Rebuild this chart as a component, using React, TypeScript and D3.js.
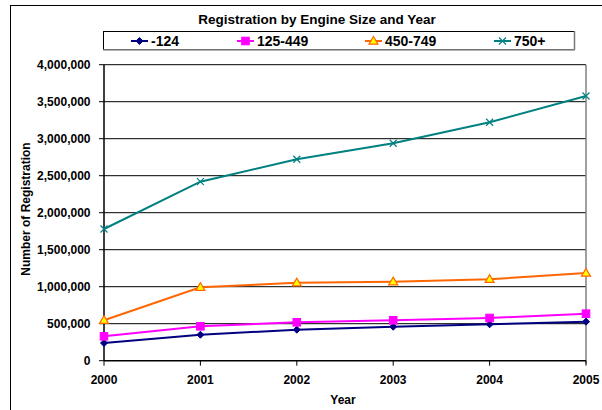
import React from "react";
import * as d3 from "d3";

const years = [2000, 2001, 2002, 2003, 2004, 2005];
const seriesNames = ["-124", "125-449", "450-749", "750+"];
const s124 = [239000, 351000, 419000, 459000, 492000, 527000];
const s125 = [330000, 465000, 519000, 546000, 577000, 635000];
const s450 = [546000, 992000, 1054000, 1068000, 1100000, 1185000];
const s750 = [1780000, 2419000, 2722000, 2938000, 3222000, 3577000];
const yTicks = [0, 500000, 1000000, 1500000, 2000000, 2500000, 3000000, 3500000, 4000000];

const colors = ["#000080", "#FF00FF", "#FF6600", "#008080"];
const allSeries = [s124, s125, s450, s750];

const W = 602, H = 410;
const left = 104, right = 586, top = 64.7, bottom = 360.7;
const font = "'Liberation Sans', Arial, sans-serif";

function Marker({ kind, x, y }: { kind: number; x: number; y: number }) {
  if (kind === 0) {
    const r = 3.5;
    return <path d={`M${x},${y - r}L${x + r},${y}L${x},${y + r}L${x - r},${y}Z`} fill="#000080" stroke="#000080" strokeWidth={1} />;
  }
  if (kind === 1) {
    return <rect x={x - 3.8} y={y - 3.8} width={7.6} height={7.6} fill="#FF00FF" stroke="#FF00FF" />;
  }
  if (kind === 2) {
    const r = 4.5;
    return <path d={`M${x},${y - r}L${x + r},${y + r * 0.7}L${x - r},${y + r * 0.7}Z`} fill="#FFFF00" stroke="#FF6600" strokeWidth={1.2} />;
  }
  const r = 3.5;
  return <path d={`M${x - r},${y - r}L${x + r},${y + r}M${x - r},${y + r}L${x + r},${y - r}`} stroke="#008080" strokeWidth={1.2} fill="none" />;
}

export default function App() {
  const x = d3.scaleLinear().domain([2000, 2005]).range([left, right]);
  const y = d3.scaleLinear().domain([0, 4000000]).range([bottom, top]);
  const line = d3.line<number>().x((_, i) => x(years[i])).y((d) => y(d));
  const fmt = d3.format(",");
  const legendX = [131, 237, 365, 494];

  return (
    <svg width={W} height={H} style={{ position: "absolute", left: 0, top: 0, background: "#fff" }}>
      <rect x={0} y={0} width={W} height={H} fill="#fff" />
      {/* outer frame */}
      <line x1={10} y1={5.5} x2={W} y2={5.5} stroke="#000" strokeWidth={1} />
      <line x1={10.5} y1={5} x2={10.5} y2={H} stroke="#000" strokeWidth={1} />

      {/* title */}
      <text x={317} y={24} textAnchor="middle" fontFamily={font} fontWeight="bold" fontSize={13.5} fill="#000">
        Registration by Engine Size and Year
      </text>

      {/* legend */}
      <rect x={103.5} y={31.5} width={471} height={18} fill="#fff" stroke="#000" strokeWidth={1} />
      <line x1={574.5} y1={31} x2={574.5} y2={50} stroke="#777" strokeWidth={1.5} />
      <line x1={103} y1={50} x2={575} y2={50} stroke="#999" strokeWidth={1.5} />
      {seriesNames.map((n, i) => (
        <g key={n}>
          <line x1={legendX[i]} y1={41} x2={legendX[i] + 17} y2={41} stroke={colors[i]} strokeWidth={2} />
          <Marker kind={i} x={legendX[i] + 8.5} y={41} />
          <text x={legendX[i] + 20} y={46} fontFamily={font} fontWeight="bold" fontSize={14} fill="#000">
            {n}
          </text>
        </g>
      ))}

      {/* gridlines */}
      {yTicks.map((t) => (
        <g key={t}>
          {t > 0 && <line x1={left} x2={right} y1={y(t)} y2={y(t)} stroke="#000" strokeWidth={1} />}
          <line x1={left - 5} x2={left} y1={y(t)} y2={y(t)} stroke="#000" strokeWidth={1} />
          <text x={90.5} y={y(t) + 4.2} textAnchor="end" fontFamily={font} fontWeight="bold" fontSize={12} fill="#000">
            {fmt(t)}
          </text>
        </g>
      ))}
      {/* plot borders */}
      <line x1={right} x2={right} y1={top} y2={bottom + 3} stroke="#808080" strokeWidth={1.5} />
      <line x1={left} x2={left} y1={top} y2={bottom} stroke="#000" strokeWidth={1.5} />
      <line x1={left} x2={right} y1={bottom} y2={bottom} stroke="#000" strokeWidth={1.5} />
      {years.map((yr) => (
        <g key={yr}>
          <line x1={x(yr)} x2={x(yr)} y1={bottom} y2={bottom + 5} stroke="#000" strokeWidth={1} />
          <text x={x(yr)} y={384} textAnchor="middle" fontFamily={font} fontWeight="bold" fontSize={12} fill="#000">
            {yr}
          </text>
        </g>
      ))}

      {/* axis titles */}
      <text x={343} y={404} textAnchor="middle" fontFamily={font} fontWeight="bold" fontSize={12} fill="#000">
        Year
      </text>
      <text
        transform={`translate(29.5,${209}) rotate(-90)`}
        textAnchor="middle"
        fontFamily={font}
        fontWeight="bold"
        fontSize={12}
        fill="#000"
      >
        Number of Registration
      </text>

      {/* series */}
      {allSeries.map((s, i) => (
        <g key={i}>
          <path d={line(s) || ""} fill="none" stroke={colors[i]} strokeWidth={2} />
          {s.map((v, j) => (
            <Marker key={j} kind={i} x={x(years[j])} y={y(v)} />
          ))}
        </g>
      ))}
    </svg>
  );
}
